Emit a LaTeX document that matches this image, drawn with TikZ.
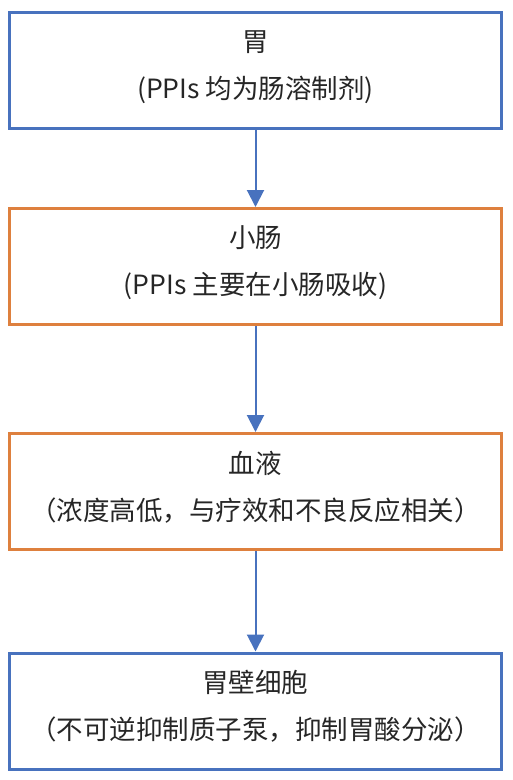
\documentclass[tikz,border=0pt]{standalone}
\usepackage{fontspec}
\setmainfont{Noto Sans CJK SC}
\usetikzlibrary{arrows.meta,positioning}
\definecolor{boxblue}{RGB}{72,114,190}
\definecolor{boxorange}{RGB}{222,128,62}
\begin{document}
\begin{tikzpicture}[x=1pt,y=-1pt]
\tikzset{
  stagebox/.style={rectangle,draw,line width=3pt,minimum width=492pt,minimum height=116pt,inner sep=0pt,
    align=center,text=black!85,text depth=12pt,font=\fontsize{26.5}{47}\selectfont},
  flow/.style={-{Triangle[length=17pt,width=17pt]},line width=2pt,draw=boxblue}
}
\useasboundingbox (0,0) rectangle (512,780);
\node[stagebox,draw=boxblue] (n_wei) at (255.5,70.5) {胃\\(PPIs 均为肠溶制剂)};
\node[stagebox,draw=boxorange] (n_xc) at (255.5,266.5) {小肠\\(PPIs 主要在小肠吸收)};
\node[stagebox,draw=boxorange] (n_xy) at (255.5,491.5) {血液\\（浓度高低，与疗效和不良反应相关）};
\node[stagebox,draw=boxblue] (n_bx) at (255.5,711) {胃壁细胞\\（不可逆抑制质子泵，抑制胃酸分泌）};
\draw[flow] (n_wei) -- (n_xc);
\draw[flow] (n_xc) -- (n_xy);
\draw[flow] (n_xy) -- (n_bx);
\end{tikzpicture}
\end{document}
